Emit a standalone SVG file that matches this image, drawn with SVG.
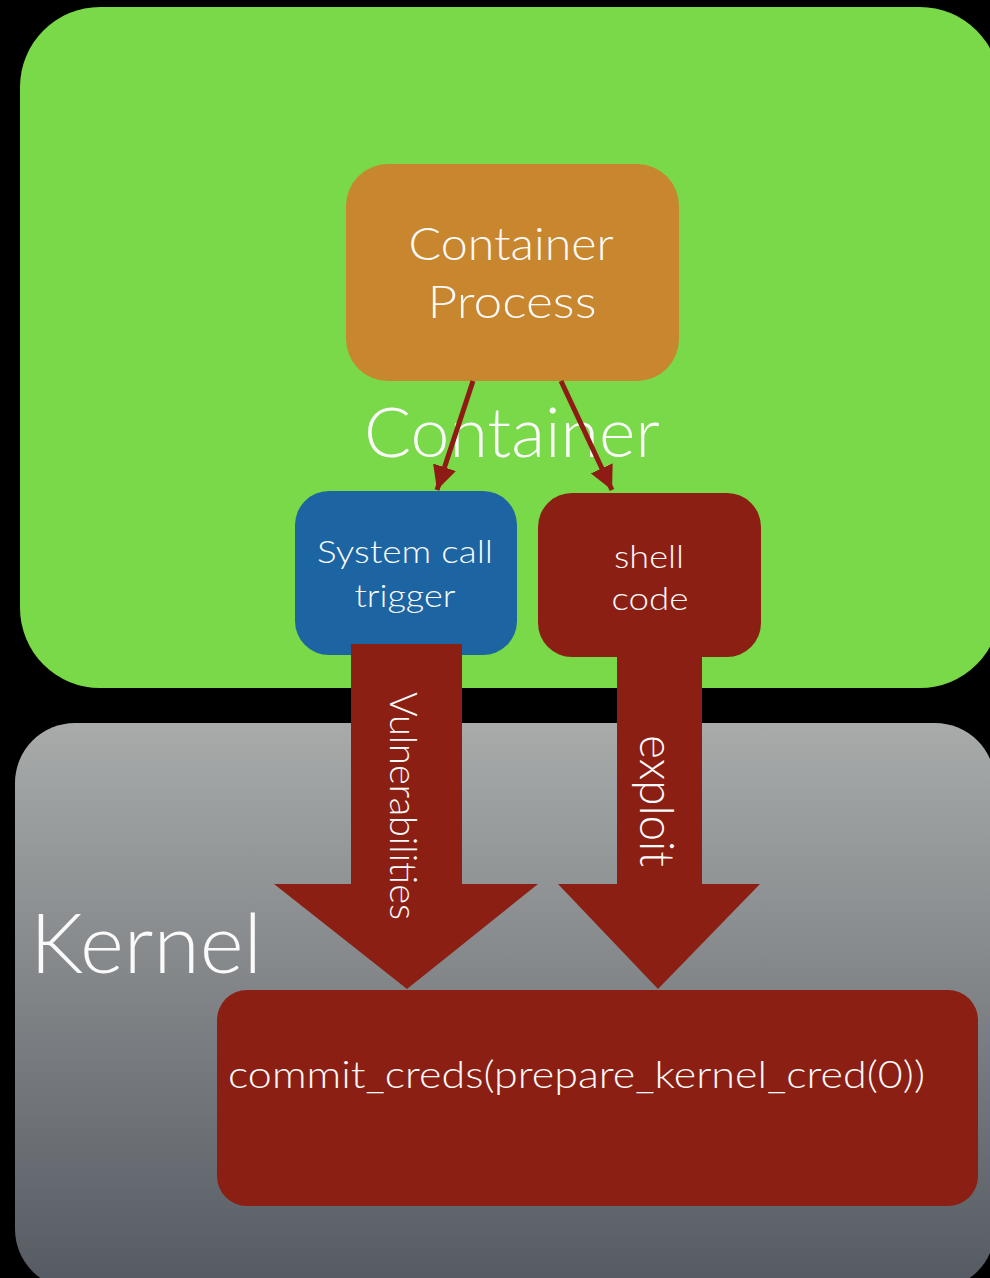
<svg xmlns="http://www.w3.org/2000/svg" width="990" height="1278" viewBox="0 0 990 1278">
  <defs>
    <linearGradient id="kernelFill" x1="0" y1="0" x2="0" y2="1">
      <stop offset="0" stop-color="#a8abaa"/>
      <stop offset="1" stop-color="#555a62"/>
    </linearGradient>
    <marker id="head" markerUnits="userSpaceOnUse" markerWidth="26" markerHeight="24" refX="24" refY="12" orient="auto">
      <path d="M0,0 L24,12 L0,24 Z" fill="#8f1b15"/>
    </marker>
    <style>
      text { font-family: Lato, "Liberation Sans", Arial, sans-serif; font-weight: 300; fill: #fafafa; }
      .mid { text-anchor: middle; }
      .red { fill: #8c1f13; }
      .link { stroke: #8f1b15; stroke-width: 5; fill: none; }
    </style>
  </defs>

  <!-- backdrop -->
  <rect x="0" y="0" width="990" height="1278" fill="#000"/>

  <!-- container area -->
  <g id="container">
    <rect x="20" y="7" width="980" height="681" rx="80" ry="80" fill="#7ad948"/>
    <text x="512" y="457" class="mid" font-size="68" textLength="296" lengthAdjust="spacingAndGlyphs">Container</text>
  </g>

  <!-- kernel area -->
  <g id="kernel">
    <rect x="15" y="723" width="980" height="566" rx="60" ry="60" fill="url(#kernelFill)"/>
    <text x="30" y="973" font-size="82" textLength="232" lengthAdjust="spacingAndGlyphs">Kernel</text>
  </g>

  <!-- process inside the container -->
  <g id="container-process">
    <rect x="346" y="164" width="333" height="217" rx="42" ry="42" fill="#c8862f"/>
    <text x="511" y="260" class="mid" font-size="45" textLength="205" lengthAdjust="spacingAndGlyphs">Container</text>
    <text x="512" y="318" class="mid" font-size="45" textLength="169" lengthAdjust="spacingAndGlyphs">Process</text>
  </g>

  <g id="syscall-trigger">
    <rect x="295" y="491" width="222" height="164" rx="34" ry="34" fill="#1d65a2"/>
    <text x="405" y="563" class="mid" font-size="32" textLength="176" lengthAdjust="spacingAndGlyphs">System call</text>
    <text x="405" y="607" class="mid" font-size="32" textLength="101" lengthAdjust="spacingAndGlyphs">trigger</text>
  </g>

  <g id="shell-code">
    <rect x="538" y="493" width="223" height="164" rx="34" ry="34" class="red"/>
    <text x="649" y="568" class="mid" font-size="32" textLength="70" lengthAdjust="spacingAndGlyphs">shell</text>
    <text x="650" y="610" class="mid" font-size="32" textLength="77" lengthAdjust="spacingAndGlyphs">code</text>
  </g>

  <g id="commit-creds">
    <rect x="217" y="990" width="761" height="216" rx="30" ry="30" class="red"/>
    <text x="228" y="1088" font-size="38" textLength="697" lengthAdjust="spacingAndGlyphs">commit_creds(prepare_kernel_cred(0))</text>
  </g>

  <!-- connectors -->
  <g id="connectors">
    <line x1="473" y1="381" x2="437" y2="490" class="link" marker-end="url(#head)"/>
    <line x1="561" y1="381" x2="612" y2="490" class="link" marker-end="url(#head)"/>

    <g id="vulnerabilities-arrow">
      <path d="M351,644 H462 V884 H538 L407,989 L274,884 H351 Z" class="red"/>
      <text transform="translate(390,692) rotate(90)" font-size="38" textLength="228" lengthAdjust="spacingAndGlyphs">Vulnerabilities</text>
    </g>
    <g id="exploit-arrow">
      <path d="M617,644 H702 V884 H760 L658,989 L558,884 H617 Z" class="red"/>
      <text transform="translate(640,735) rotate(90)" font-size="48" textLength="132" lengthAdjust="spacingAndGlyphs">exploit</text>
    </g>
  </g>
</svg>
